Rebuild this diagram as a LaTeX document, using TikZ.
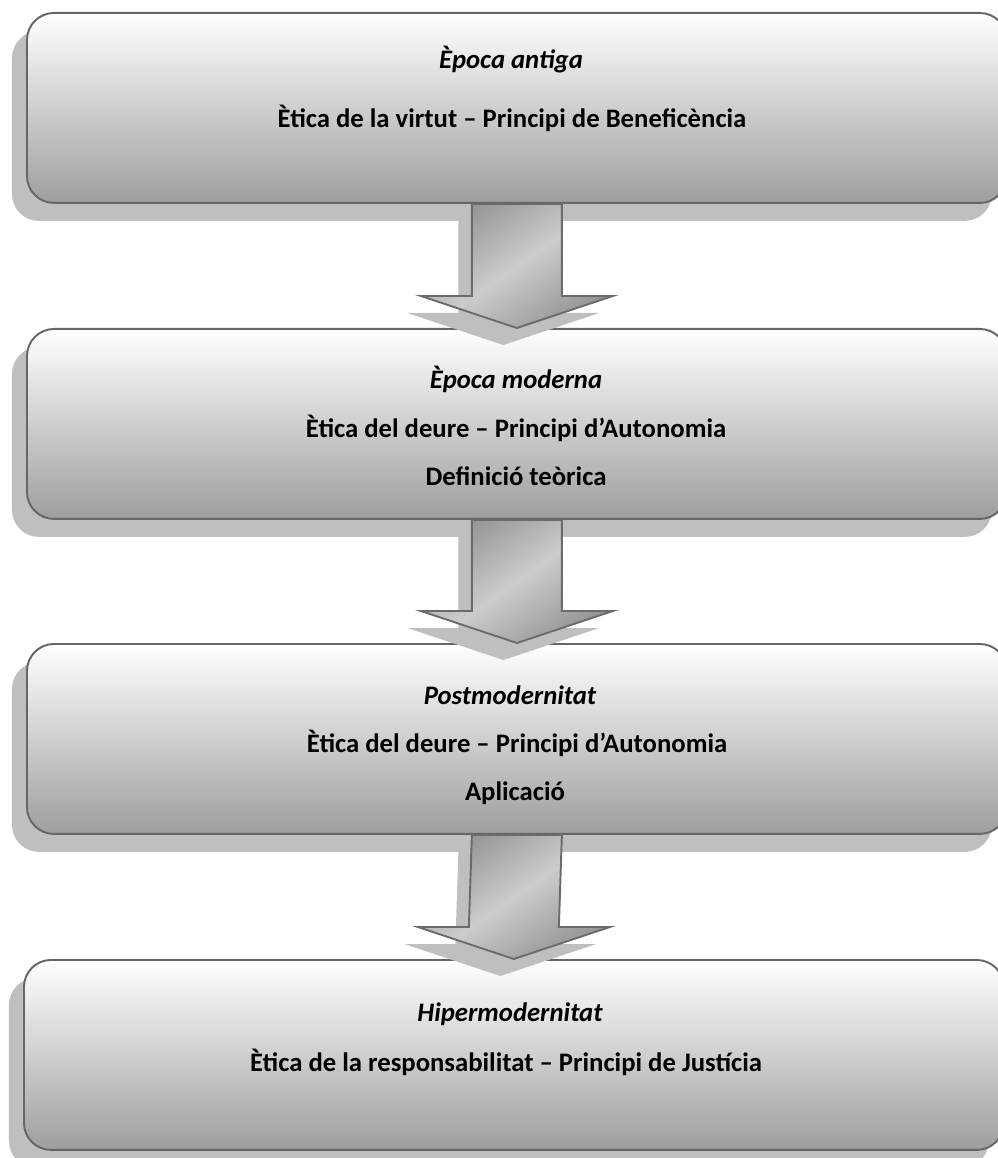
\documentclass[tikz,border=0pt]{standalone}
\usepackage{fontspec}
\setmainfont{Carlito}
\usetikzlibrary{calc,shadows}

\begin{document}
\begin{tikzpicture}[x=0.02cm,y=-0.02cm,
  box/.style={draw=black!60,line width=1.1pt,rounded corners=0.54cm,top color=white,bottom color=black!38,
    minimum width=19.6cm,minimum height=3.8cm,anchor=north west,inner sep=0pt,
    drop shadow={shadow xshift=-0.3cm,shadow yshift=-0.36cm,fill=black!25,opacity=1}},
  arrowbody/.style={draw=black!58,line width=1.1pt,left color=black!42,right color=black!42,middle color=black!20,shading angle=35,
    drop shadow={shadow xshift=-0.27cm,shadow yshift=-0.34cm,fill=black!25,opacity=1}},
  era/.style={font=\itshape\bfseries\fontsize{15.2}{18}\selectfont,anchor=base},
  ethic/.style={font=\bfseries\fontsize{15.2}{18}\selectfont,anchor=base}]
\useasboundingbox (0,0) rectangle (997,1158);
% the four boxes
\node[box] (b1) at (26,12) {};
\node[box] (b2) at (26,328) {};
\node[box] (b3) at (26,643) {};
\node[box] (b4) at (23,959) {};
% block arrows
\draw[arrowbody] ($(b1.south)+(-45,0)$) -- ($(b2.north)+(-45,-32)$) -- ($(b2.north)+(-96,-32)$) -- (b2.north) -- ($(b2.north)+(96,-32)$) -- ($(b2.north)+(45,-32)$) -- ($(b1.south)+(45,0)$) -- cycle;
\draw[arrowbody] ($(b2.south)+(-45,0)$) -- ($(b3.north)+(-45,-32)$) -- ($(b3.north)+(-96,-32)$) -- (b3.north) -- ($(b3.north)+(96,-32)$) -- ($(b3.north)+(45,-32)$) -- ($(b2.south)+(45,0)$) -- cycle;
\draw[arrowbody] ($(b3.south)+(-45,0)$) -- ($(b4.north)+(-45,-32)$) -- ($(b4.north)+(-96,-32)$) -- (b4.north) -- ($(b4.north)+(96,-32)$) -- ($(b4.north)+(45,-32)$) -- ($(b3.south)+(45,0)$) -- cycle;
% texts
\node[era] (e1) at (511,69) {Època antiga};
\node[ethic] (l1) at (512,128) {Ètica de la virtut – Principi de Beneficència};
\node[era] (e2) at (516,388) {Època moderna};
\node[ethic] (l2) at (516,437) {Ètica del deure – Principi d’Autonomia};
\node[ethic] (s2) at (516,485) {Definició teòrica};
\node[era] (e3) at (510,704) {Postmodernitat};
\node[ethic] (l3) at (517,752) {Ètica del deure – Principi d’Autonomia};
\node[ethic] (s3) at (515,800) {Aplicació};
\node[era] (e4) at (510,1021) {Hipermodernitat};
\node[ethic] (l4) at (506,1071) {Ètica de la responsabilitat – Principi de Justícia};
\end{tikzpicture}
\end{document}
